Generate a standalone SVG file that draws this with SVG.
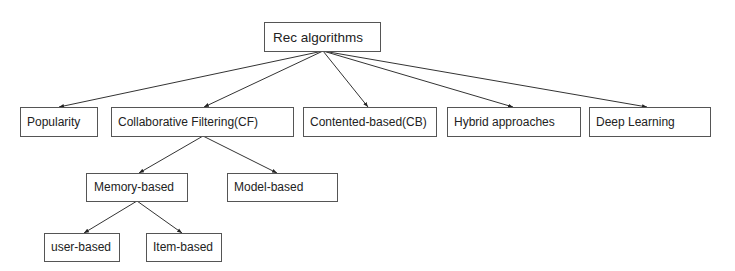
<svg xmlns="http://www.w3.org/2000/svg" width="735" height="271" viewBox="0 0 735 271">
  <style>
    .box { fill: #ffffff; stroke: #555555; stroke-width: 1; }
    .lbl { font-family: "Liberation Sans", Arial, sans-serif; font-size: 12px; fill: #222222; }
    .root { font-size: 13.5px; }
    .edge { stroke: #333333; stroke-width: 1; fill: none; marker-end: url(#tip); }
  </style>
  <defs>
    <marker id="tip" viewBox="0 0 10 10" refX="10" refY="5" markerWidth="5" markerHeight="5" markerUnits="userSpaceOnUse" orient="auto">
      <path d="M0,1 L10,5 L0,9 z" fill="#222222"/>
    </marker>
  </defs>
  <rect width="735" height="271" fill="#ffffff"/>

  <g id="connectors">
    <line class="edge" x1="323" y1="51" x2="59" y2="107"/>
    <line class="edge" x1="323" y1="51" x2="204" y2="107"/>
    <line class="edge" x1="323" y1="51" x2="368" y2="107"/>
    <line class="edge" x1="323" y1="51" x2="513" y2="107"/>
    <line class="edge" x1="323" y1="51" x2="647" y2="107"/>
    <line class="edge" x1="203" y1="136" x2="139" y2="173"/>
    <line class="edge" x1="203" y1="136" x2="277" y2="173"/>
    <line class="edge" x1="137" y1="201" x2="84" y2="233"/>
    <line class="edge" x1="137" y1="201" x2="182" y2="233"/>
  </g>

  <g id="rec-algorithms">
    <rect class="box" x="264.5" y="22.5" width="116" height="29"/>
    <text class="lbl root" x="273" y="42">Rec algorithms</text>
  </g>
  <g id="popularity">
    <rect class="box" x="20.5" y="107.5" width="77" height="29"/>
    <text class="lbl" x="27" y="126">Popularity</text>
  </g>
  <g id="collaborative-filtering">
    <rect class="box" x="111.5" y="107.5" width="182" height="29"/>
    <text class="lbl" x="118" y="126">Collaborative Filtering(CF)</text>
  </g>
  <g id="content-based">
    <rect class="box" x="303.5" y="107.5" width="133" height="29"/>
    <text class="lbl" x="310" y="126">Contented-based(CB)</text>
  </g>
  <g id="hybrid">
    <rect class="box" x="447.5" y="107.5" width="133" height="29"/>
    <text class="lbl" x="454" y="126">Hybrid approaches</text>
  </g>
  <g id="deep-learning">
    <rect class="box" x="589.5" y="107.5" width="121" height="29"/>
    <text class="lbl" x="596" y="126">Deep Learning</text>
  </g>
  <g id="memory-based">
    <rect class="box" x="86.5" y="173.5" width="101" height="28"/>
    <text class="lbl" x="94" y="191">Memory-based</text>
  </g>
  <g id="model-based">
    <rect class="box" x="227.5" y="173.5" width="110" height="28"/>
    <text class="lbl" x="234" y="191">Model-based</text>
  </g>
  <g id="user-based">
    <rect class="box" x="44.5" y="233.5" width="75" height="28"/>
    <text class="lbl" x="51" y="251">user-based</text>
  </g>
  <g id="item-based">
    <rect class="box" x="146.5" y="233.5" width="75" height="28"/>
    <text class="lbl" x="153" y="251">Item-based</text>
  </g>
</svg>
